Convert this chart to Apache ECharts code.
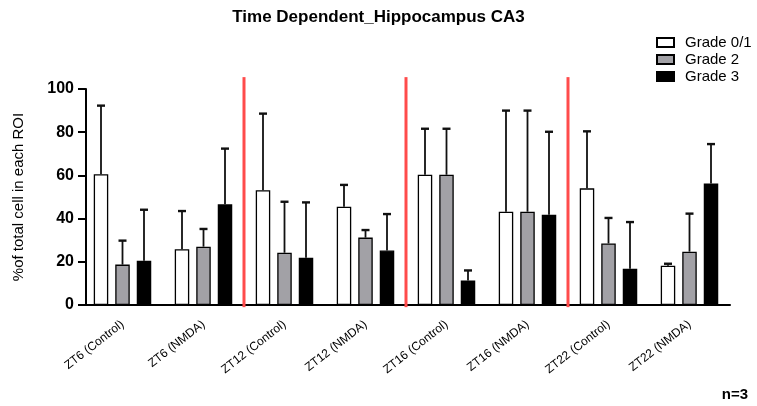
<!DOCTYPE html>
<html>
<head>
<meta charset="utf-8">
<script src="https://cdn.jsdelivr.net/npm/echarts@6/dist/echarts.min.js"></script>
<style>
  html, body { margin: 0; padding: 0; background: #fff; }
  #chart { width: 757px; height: 406px; }
</style>
</head>
<body>
<div id="chart"></div>
<script>
// Groups along the x axis
const categories = ['ZT6 (Control)', 'ZT6 (NMDA)', 'ZT12 (Control)', 'ZT12 (NMDA)',
                    'ZT16 (Control)', 'ZT16 (NMDA)', 'ZT22 (Control)', 'ZT22 (NMDA)'];
const gradeNames = ['Grade 0/1', 'Grade 2', 'Grade 3'];

// Mean % of total cells per ROI
const grade01Mean = [60.5, 25.8, 53.1, 45.5, 60.3, 43.2, 54.0, 18.2];
const grade2Mean  = [18.7, 27.0, 24.2, 31.2, 60.3, 43.2, 28.5, 24.7];
const grade3Mean  = [20.5, 46.6, 21.9, 25.2, 11.3, 41.8, 16.8, 56.2];

// Standard deviations (upper error bars)
const grade01SD = [31.8, 17.7, 35.5, 10.1, 21.3, 46.8, 26.4, 0.9];
const grade2SD  = [11.1,  8.2, 23.6,  3.5, 21.3, 46.8, 11.8, 17.6];
const grade3SD  = [23.6, 25.8, 25.6, 16.9,  4.7, 38.4, 21.6, 18.3];

// Boundaries between time points (in category units on the helper axis)
const separators = [2, 4, 6];

const yTicks = [0, 20, 40, 60, 80, 100];

const FONT = '"Liberation Sans", Arial, Helvetica, sans-serif';
const BAR_WIDTH = 14.5;
const BAR_GAP = 7;
const fills = ['#ffffff', '#a2a1a6', '#000000'];

const means = [grade01Mean, grade2Mean, grade3Mean];
const sds = [grade01SD, grade2SD, grade3SD];

const barSeries = gradeNames.map((name, i) => ({
  name: name,
  type: 'bar',
  xAxisIndex: 0,
  yAxisIndex: 0,
  barWidth: BAR_WIDTH,
  barGap: (BAR_GAP / BAR_WIDTH * 100).toFixed(1) + '%',
  itemStyle: { color: fills[i], borderColor: '#000', borderWidth: 1.3 },
  emphasis: { disabled: true },
  z: 3,
  data: means[i]
}));

const errorSeries = gradeNames.map((name, i) => {
  const offset = (i - 1) * (BAR_WIDTH + BAR_GAP);
  return {
    name: name + ' SD',
    type: 'custom',
    xAxisIndex: 0,
    yAxisIndex: 0,
    z: 2,
    silent: true,
    data: means[i].map((m, k) => [k, m, m + sds[i][k]]),
    renderItem: function (params, api) {
      const base = api.coord([api.value(0), api.value(1)]);
      const top = api.coord([api.value(0), api.value(2)]);
      const x = base[0] + offset;
      return {
        type: 'group',
        children: [
          { type: 'line', shape: { x1: x, y1: base[1], x2: x, y2: top[1] },
            style: { stroke: '#111', lineWidth: 1.8 } },
          { type: 'line', shape: { x1: x - 4, y1: top[1], x2: x + 4, y2: top[1] },
            style: { stroke: '#111', lineWidth: 2.4 } }
        ]
      };
    }
  };
});

// Red vertical separators between time points, on a value axis spanning the categories
const separatorSeries = {
  name: 'separators',
  type: 'custom',
  xAxisIndex: 1,
  yAxisIndex: 0,
  clip: false,
  silent: true,
  z: 4,
  data: separators.map(s => [s]),
  renderItem: function (params, api) {
    const bottom = api.coord([api.value(0), -1]);
    const top = api.coord([api.value(0), 105.5]);
    return {
      type: 'line',
      shape: { x1: bottom[0], y1: bottom[1], x2: top[0], y2: top[1] },
      style: { stroke: '#ff4b4b', lineWidth: 3 }
    };
  }
};

const chart = echarts.init(document.getElementById('chart'), null, { renderer: 'canvas' });
chart.setOption({
  animation: false,
  backgroundColor: '#fff',
  title: {
    text: 'Time Dependent_Hippocampus CA3',
    left: 'center',
    top: 4,
    textStyle: { fontFamily: FONT, fontSize: 17, fontWeight: 'bold', color: '#000' }
  },
  legend: {
    orient: 'vertical',
    left: 656,
    top: 35,
    icon: 'rect',
    itemWidth: 17,
    itemHeight: 9,
    itemGap: 2,
    padding: 0,
    data: gradeNames,
    textStyle: { fontFamily: FONT, fontSize: 15, color: '#000', lineHeight: 14, padding: [0, 0, 0, 6] }
  },
  grid: [
    { left: 82, top: 89, width: 648, height: 216 },
    { left: 86, top: 89, width: 644, height: 216 }
  ],
  xAxis: [{
    type: 'category',
    gridIndex: 0,
    data: categories,
    axisLine: { lineStyle: { color: '#000', width: 2 } },
    axisTick: { alignWithLabel: true, length: 8, lineStyle: { color: '#000', width: 2 } },
    axisLabel: { rotate: 38, margin: 18, fontFamily: FONT, fontSize: 12, color: '#000', interval: 0 },
    splitLine: { show: false }
  }, {
    type: 'value',
    gridIndex: 0,
    min: 0,
    max: categories.length,
    show: false
  }, {
    type: 'value',
    gridIndex: 1,
    min: 0,
    max: 1,
    show: false
  }],
  yAxis: [{
    type: 'value',
    gridIndex: 0,
    min: 0,
    max: 100,
    show: false
  }, {
    type: 'value',
    gridIndex: 1,
    min: 0,
    max: 100,
    interval: 20,
    name: '%of total cell in each ROI',
    nameLocation: 'middle',
    nameRotate: 90,
    nameGap: 60,
    nameTextStyle: { fontFamily: FONT, fontSize: 15, color: '#000' },
    axisLine: { show: true, onZero: false, lineStyle: { color: '#000', width: 2 } },
    axisTick: { show: true, length: 8, lineStyle: { color: '#000', width: 2 } },
    axisLabel: {
      margin: 12, fontFamily: FONT, fontSize: 16, fontWeight: 'bold', color: '#000',
      formatter: v => (yTicks.indexOf(v) >= 0 ? String(v) : '')
    },
    splitLine: { show: false }
  }],
  graphic: [{
    type: 'text',
    right: 9,
    bottom: 4,
    style: { text: 'n=3', fontFamily: FONT, fontSize: 15, fontWeight: 'bold', fill: '#000' }
  }],
  series: [...errorSeries, ...barSeries, separatorSeries]
});
</script>
</body>
</html>
